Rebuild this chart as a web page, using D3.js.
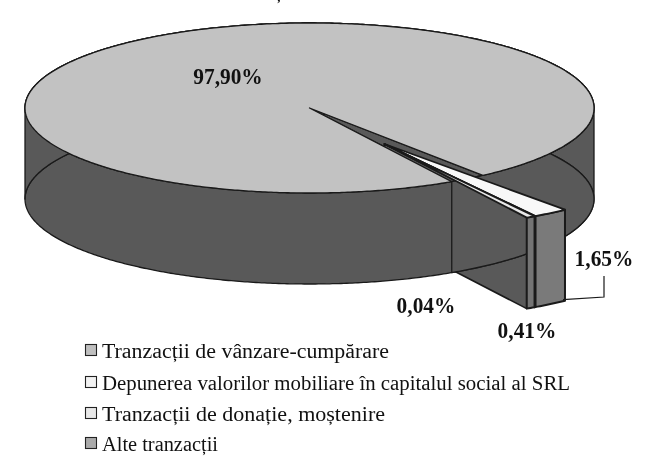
<!DOCTYPE html>
<html>
<head>
<meta charset="utf-8">
<script src="https://cdn.jsdelivr.net/npm/d3@7"></script>
<style>
html, body { margin: 0; padding: 0; background: #fff; overflow: hidden; }
svg { filter: blur(0.4px); }
text { font-family: "Liberation Serif", serif; fill: #111; }
.label { font-size: 23.5px; font-weight: bold; }
.legend { font-size: 20.8px; }
</style>
</head>
<body>
<div id="chart_container"></div>
<script>
// values as printed on the chart, legend order
var categories = ["Tranzacții de vânzare-cumpărare", "Depunerea valorilor mobiliare în capitalul social al SRL", "Tranzacții de donație, moștenire", "Alte tranzacții"];
var values = [97.90, 0.04, 0.41, 1.65];
var valueLabels = ["97,90%", "0,04%", "0,41%", "1,65%"];
var swatchColors = ["#bfbfbf", "#f2f2f2", "#e8e8e8", "#aaaaaa"];
var topColors = ["#c2c2c2", "#f0f0f0", "#e8e8e8", "#f8f8f8"];
var sideColors = ["#595959", "#6a6a6a", "#747474", "#7a7a7a"];
var titleText = "Total tranzacții în 2010";
// clockwise order the slices have on the picture
var sliceOrder = [0, 3, 1, 2];

var width = 647, height = 459;
var depth = 91;
var explodeX = 75, explodeY = 36;
var explodeSweep = 1.24; // exploded part looks wider because of perspective
var line = "#1a1a1a";

var svg = d3.select("#chart_container").append("svg")
    .attr("width", width)
    .attr("height", height);

var x = d3.scaleLinear().domain([-1, 1]).range([25, 594]);
var y = d3.scaleLinear().domain([-1, 1]).range([23, 193]);

var pie = d3.pie()
    .value(function(i) { return values[i]; })
    .sort(null)
    .startAngle(150 * Math.PI / 180)
    .endAngle((150 + 360) * Math.PI / 180);
var slices = pie(sliceOrder);
var big = slices[0];
var small = slices.slice(1);

var toPath = d3.line();

// d3 pie angle: 0 at 12 o'clock, clockwise. dx, dy shift for the exploded part
function pt(a, dx, dy, down) {
    return [x(Math.sin(a)) + (dx || 0), y(-Math.cos(a)) + (dy || 0) + (down || 0)];
}
function centre(dx, dy, down) {
    return [x(0) + (dx || 0), y(0) + (dy || 0) + (down || 0)];
}
function arcPts(a0, a1, dx, dy, down) {
    var n = Math.max(2, Math.ceil(Math.abs(a1 - a0) / 0.01));
    return d3.range(n + 1).map(function(i) {
        return pt(a0 + (a1 - a0) * i / n, dx, dy, down);
    });
}
function draw(points, fill, sw) {
    svg.append("path")
        .attr("d", toPath(points) + "Z")
        .attr("fill", fill)
        .attr("stroke", line)
        .attr("stroke-width", sw || 1.3)
        .attr("stroke-linejoin", "round");
}
// outer wall between two angles
function wall(a0, a1, fill, dx, dy, sw) {
    draw(arcPts(a0, a1, dx, dy).concat(arcPts(a1, a0, dx, dy, depth)), fill, sw);
}

var notchStart = small[0].startAngle;          // right edge of the gap
var notchEnd = small[small.length - 1].endAngle; // left edge of the gap

// inside walls of the gap in the pie
draw([centre(), pt(notchStart), pt(notchStart, 0, 0, depth), centre(0, 0, depth)], sideColors[0]);
draw([centre(), pt(notchStart), pt(notchEnd)], sideColors[0]);

// exploded angles, anchored at the left edge of the gap
function exAngle(a) {
    return notchEnd - (notchEnd - a) * explodeSweep;
}

// cut face of the exploded part, the pie walls below hide its back end
draw([centre(explodeX, explodeY), pt(exAngle(notchEnd), explodeX, explodeY),
    pt(exAngle(notchEnd), explodeX, explodeY, depth), centre(explodeX, explodeY, depth)], sideColors[0], 1.6);

// visible outer wall of the pie, right and left of the gap
wall(Math.PI / 2, notchStart, sideColors[0]);
wall(notchEnd, 1.5 * Math.PI, sideColors[0]);

// top of the big slice
draw([centre()].concat(arcPts(big.startAngle, big.endAngle)), topColors[0]);

// exploded slices, from the far one to the near one
small.forEach(function(s) {
    var i = s.data;
    wall(exAngle(s.startAngle), exAngle(s.endAngle), sideColors[i], explodeX, explodeY, 2);
});
small.forEach(function(s) {
    var i = s.data;
    draw([centre(explodeX, explodeY)].concat(arcPts(exAngle(s.startAngle), exAngle(s.endAngle), explodeX, explodeY)), topColors[i], 1.8);
});

// leader line of the 1,65% label
var rightBase = pt(exAngle(notchStart), explodeX, explodeY, depth);
svg.append("path")
    .attr("d", toPath([[rightBase[0] - 2, rightBase[1] - 1], [604, 297], [604, 276]]))
    .attr("fill", "none")
    .attr("stroke", line)
    .attr("stroke-width", 1.2);

// title, cut by the top edge of the picture
svg.append("text")
    .attr("x", 264)
    .attr("y", -1)
    .attr("text-anchor", "middle")
    .style("font-size", "21px")
    .style("font-style", "italic")
    .text(titleText);

// value labels
var labelX = [228, 426, 527, 604];
var labelY = [84, 313, 338, 266];
svg.selectAll(".label")
    .data(valueLabels)
    .enter().append("text")
    .attr("class", "label")
    .attr("transform", function(d, i) { return "translate(" + labelX[i] + "," + labelY[i] + ") scale(0.91,1)"; })
    .attr("text-anchor", "middle")
    .text(function(d) { return d; });

// legend
var legendY = [358, 390, 421, 451];
var legendWidths = [287, 468, 283, 116];
var legend = svg.selectAll(".legend-row")
    .data(categories)
    .enter().append("g")
    .attr("class", "legend-row")
    .attr("transform", function(d, i) { return "translate(85," + legendY[i] + ")"; });
legend.append("rect")
    .attr("x", 0.5)
    .attr("y", -13.5)
    .attr("width", 11)
    .attr("height", 11)
    .attr("fill", function(d, i) { return swatchColors[i]; })
    .attr("stroke", "#222")
    .attr("stroke-width", 1.1);
legend.append("text")
    .attr("class", "legend")
    .attr("x", 17)
    .attr("textLength", function(d, i) { return legendWidths[i]; })
    .attr("lengthAdjust", "spacingAndGlyphs")
    .text(function(d) { return d; });
</script>
</body>
</html>
